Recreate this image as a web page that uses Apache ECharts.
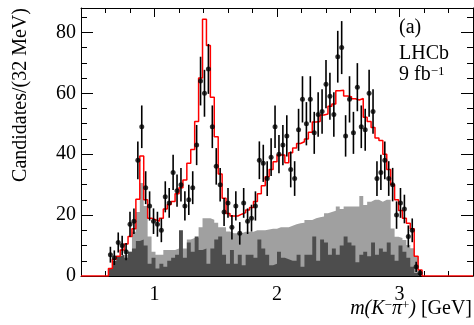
<!DOCTYPE html>
<html><head><meta charset="utf-8">
<script src="https://cdn.jsdelivr.net/npm/echarts@6/dist/echarts.min.js"></script>
<style>html,body{margin:0;padding:0;background:#fff}#c{width:474px;height:325px}</style>
</head><body><div id="c"></div>
<script>
// bins of 32 MeV, first filled bin starts at 0.624 GeV
const binStart = 0.624;
const binWidth = 0.032;
const dataCounts = [7,6,11,10,8,17,18,38,49,29,
 23,18,17,15,26,24,34,28,30,23,
 25,29,43,64,60,68,49,36,30,21,
 24,16,23,14,24,18,19,23,38,37,
 32,39,49,40,43,46,35,32,48,58,
 50,58,47,53,54,63,59,53,72,75,
 46,58,47,62,49,48,60,54,32,34,
 38,32,30,20,24,22,13,15,3,1];
const dataErrors = [2.6,2.4,3.3,3.2,2.8,4.1,4.2,6.2,7,5.4,
 4.8,4.2,4.1,3.9,5.1,4.9,5.8,5.3,5.5,4.8,
 5,5.4,6.6,8,7.7,8.2,7,6,5.5,4.6,
 4.9,4,4.8,3.7,4.9,4.2,4.4,4.8,6.2,6.1,
 5.7,6.2,7,6.3,6.6,6.8,5.9,5.7,6.9,7.6,
 7.1,7.6,6.9,7.3,7.3,7.9,7.7,7.3,8.5,8.7,
 6.8,7.6,6.9,7.9,7,6.9,7.7,7.3,5.7,5.8,
 6.2,5.7,5.5,4.5,4.9,4.7,3.6,3.9,1.7,1];
const fitValues = [2.5,5.5,6.5,8.5,10.5,13,15.5,25.2,39.4,25,
 19,18.5,18,19,22,23.5,24.5,27,29,31.5,
 37,41.5,50.7,65,84.3,75.7,58.7,45.7,33.5,25.5,
 20.5,19.7,19.7,20.3,20.8,21.7,22.5,24.5,27,29.6,
 32.6,35,37.5,39.7,39.7,37.2,40.5,42,43.5,44.1,
 45,47.2,50.6,50.7,52.9,53.2,55.7,56.5,60.8,61,
 59.1,58.9,58.2,57.8,58.3,52.1,50.7,48.8,45.3,44.5,
 40,35,30,25,21.5,19,17.3,15.5,6.5,2];
const lightGray = [2,3,4,6,7,8,14.5,21,30.5,23,
 13,8,7,7,8.5,8.5,8.5,9,9,9,
 12,12.5,12.5,16,19,19,18.5,17.5,16,16,
 14.6,14,14,14,14.5,14.5,14.5,15,15,15,
 15.3,15.5,15.5,16,16,16,16.5,17,17.3,17.5,
 18.4,18.4,19,19.3,19.5,20.6,21,21.4,22.8,22,
 22.8,22.8,22.8,22.8,26.3,23.3,24.4,25,25,24.4,
 25,25,15.6,12.9,12.5,11.8,10.2,9.1,6.3,1.4];
const darkGray = [2.5,5,6.5,7,6,8,9,11.5,12,10,
 4,6,2.5,4,3,5,6,7,15,6,
 11,8,13,8.5,9,4,9,12,13,7,
 4,8.5,4,7,3.5,7,7,6,12,9,
 7,3.5,4,8,6,5.5,5,5,7,3,
 7,7,13,5,12,11,7,9,7,10,
 13,11,10,4.5,7,8,6.5,11,7,9,
 8,11,7,5,10,8,6,3,1,0.5];
const xRange = [0.4, 3.6];
const yRange = [0, 88];
const xMajorTicks = [1, 2, 3];
const xMinorTicks = [0.4,0.6,0.8,1.0,1.2,1.4,1.6,1.8,2.0,2.2,2.4,2.6,2.8,3.0,3.2,3.4,3.6];
const yMajorTicks = [0, 20, 40, 60, 80];
const yMinorTicks = [5,10,15,20,25,30,35,40,45,50,55,60,65,70,75,80,85];

const edges = dataCounts.map((_, i) => +(binStart + i * binWidth).toFixed(4));
const centers = edges.map(e => +(e + binWidth / 2).toFixed(4));
const lastEdge = +(edges[edges.length - 1] + binWidth).toFixed(4);

const serif = '"Liberation Serif","DejaVu Serif",serif';

// step outline points: value of each bin at its lower edge, closing at the upper edge
function stepPoints(vals) {
  const pts = vals.map((v, i) => [edges[i], v]);
  pts.push([lastEdge, 0]);
  return pts;
}

function histSeries(vals, color, z) {
  return {
    type: 'line', step: 'end', z: z, silent: true, symbol: 'none',
    data: stepPoints(vals),
    lineStyle: { width: 0, color: color },
    areaStyle: { color: color, opacity: 1, origin: 'start' }
  };
}

const fitLine = [[xRange[0], 0]].concat(stepPoints(fitValues), [[xRange[1], 0]]);

function xAx(pos, ticks, len, withLine, labels) {
  return { type: 'value', min: xRange[0], max: xRange[1], position: pos,
    axisLine: { show: withLine, onZero: false, lineStyle: { color: '#000', width: 1 } },
    axisTick: { show: true, inside: true, length: len, customValues: ticks, lineStyle: { color: '#000', width: 1 } },
    axisLabel: labels ? { show: true, customValues: xMajorTicks, margin: 9, color: '#000', fontFamily: serif, fontSize: 20 } : { show: false },
    splitLine: { show: false } };
}
function yAx(pos, ticks, len, withLine, labels) {
  return { type: 'value', min: yRange[0], max: yRange[1], position: pos,
    axisLine: { show: withLine, onZero: false, lineStyle: { color: '#000', width: 1 } },
    axisTick: { show: true, inside: true, length: len, customValues: ticks, lineStyle: { color: '#000', width: 1 } },
    axisLabel: labels ? { show: true, customValues: yMajorTicks, margin: 5, color: '#000', fontFamily: serif, fontSize: 20 } : { show: false },
    splitLine: { show: false } };
}

const chart = echarts.init(document.getElementById('c'), null, { renderer: 'canvas' });
chart.setOption({
  animation: false,
  backgroundColor: '#fff',
  grid: { left: 81, right: 1, top: 8, bottom: 49 },
  xAxis: [
    xAx('bottom', xMajorTicks, 10, true, true),
    xAx('bottom', xMinorTicks, 5, false, false),
    xAx('top', xMajorTicks, 9, true, false),
    xAx('top', xMinorTicks, 5, false, false)
  ],
  yAxis: [
    yAx('left', yMajorTicks, 12, true, true),
    yAx('left', yMinorTicks, 6, false, false),
    yAx('right', yMajorTicks, 12, true, false),
    yAx('right', yMinorTicks, 6, false, false)
  ],
  series: [
    histSeries(lightGray, '#a0a0a0', 1),
    histSeries(darkGray, '#4d4d4d', 2),
    { type: 'line', data: fitLine, step: 'end', symbol: 'none', z: 3, silent: true,
      lineStyle: { color: '#ff0000', width: 1.5 } },
    { type: 'custom', z: 4, silent: true,
      data: dataCounts.map((v, i) => [centers[i], v, dataErrors[i]]),
      encode: { x: 0, y: 1 },
      renderItem: function (params, api) {
        const x = api.value(0), y = api.value(1), e = api.value(2);
        const t = api.coord([x, y + e]);
        const b = api.coord([x, Math.max(0, y - e)]);
        return { type: 'line', shape: { x1: t[0], y1: t[1], x2: b[0], y2: b[1] },
          style: { stroke: '#000', lineWidth: 1.6 } };
      } },
    { type: 'scatter', z: 5, silent: true, symbol: 'circle', symbolSize: 5,
      itemStyle: { color: '#000' },
      data: dataCounts.map((v, i) => [centers[i], v]) }
  ],
  graphic: [
    { type: 'text', x: 21, y: 95, rotation: Math.PI / 2,
      style: { text: 'Candidates/(32 MeV)', font: '20px ' + serif, fill: '#000', textAlign: 'center', textVerticalAlign: 'middle' } },
    { type: 'text', x: 472, y: 309,
      style: { text: '{i|m(K}{s|\u2212}{i|\u03c0}{s|+}{i|)} [GeV]', font: '20px ' + serif, fill: '#000', textAlign: 'right', textVerticalAlign: 'middle',
        rich: { i: { font: 'italic 20px ' + serif }, s: { font: '13px ' + serif, verticalAlign: 'top' } } } },
    { type: 'text', x: 399, y: 28,
      style: { text: '(a)', font: '20px ' + serif, fill: '#000', textVerticalAlign: 'middle' } },
    { type: 'text', x: 399, y: 54,
      style: { text: 'LHCb', font: '20px ' + serif, fill: '#000', textVerticalAlign: 'middle' } },
    { type: 'text', x: 399, y: 75,
      style: { text: '9 fb{s|\u22121}', font: '20px ' + serif, fill: '#000', textVerticalAlign: 'middle',
        rich: { s: { font: '13px ' + serif, verticalAlign: 'top' } } } }
  ]
});
</script></body></html>
